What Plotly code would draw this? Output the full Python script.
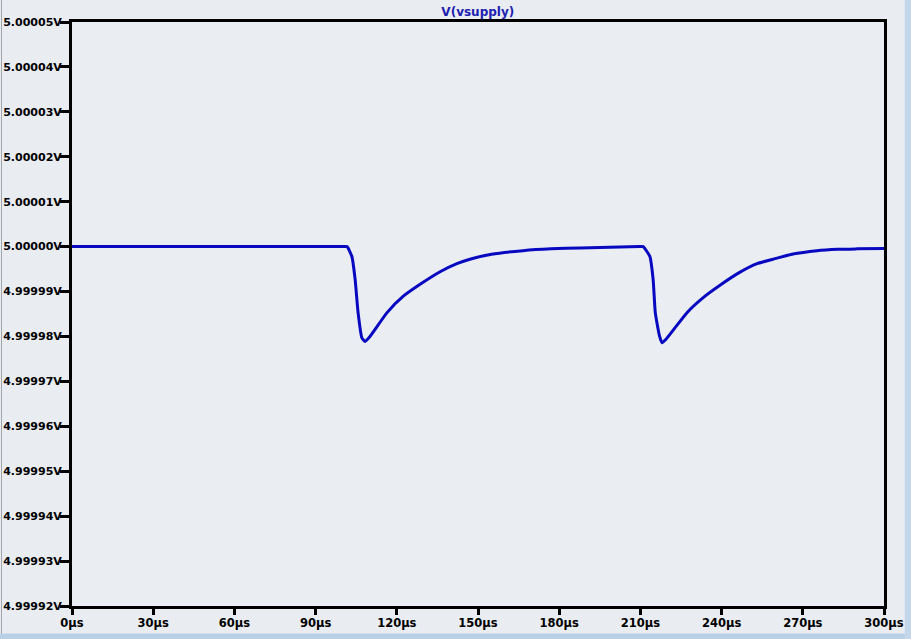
import plotly.graph_objects as go

# time in microseconds, deviation from 5 V in microvolts
time_us = [0, 30, 60, 90, 100, 101.6, 103.4, 104.6, 105.7, 107.1, 108.3, 110.1, 116.4, 122.3,
           128.6, 136.0, 142.2, 147.0, 155.0, 166.6, 177.0, 187.7, 202.5, 209.8,
           211.0, 213.5, 214.7, 215.5, 217.1, 218.0, 219.9, 227.2, 233.1, 239.4, 246.5,
           253.1, 259.0, 266.0, 275.2, 283.0, 290.0, 300]
dv_uv = [0, 0, 0, 0, 0, 0, -2.2, -7.3, -14.7, -20.3, -21.1, -20.0, -14.7, -11.1,
         -8.4, -5.6, -3.8, -2.8, -1.7, -0.9, -0.5, -0.3, -0.07, 0,
         0, -2.2, -7.3, -14.7, -20.0, -21.4, -20.3, -14.7, -11.4, -8.6, -5.8,
         -3.8, -2.8, -1.7, -0.9, -0.6, -0.5, -0.4]

y_tickvals = [50, 40, 30, 20, 10, 0, -10, -20, -30, -40, -50, -60, -70, -80]
y_ticktext = ["5.00005V", "5.00004V", "5.00003V", "5.00002V", "5.00001V", "5.00000V",
              "4.99999V", "4.99998V", "4.99997V", "4.99996V", "4.99995V", "4.99994V",
              "4.99993V", "4.99992V"]
x_tickvals = [0, 30, 60, 90, 120, 150, 180, 210, 240, 270, 300]
x_ticktext = [f"{v}µs" for v in x_tickvals]

fig = go.Figure()
fig.add_trace(
    go.Scatter(
        x=time_us,
        y=dv_uv,
        mode="lines",
        name="V(vsupply)",
        line=dict(color="#0808c0", width=3, shape="spline", smoothing=0.5),
    )
)

fig.update_layout(
    width=911,
    height=639,
    margin=dict(l=72, r=27, t=22, b=33),
    plot_bgcolor="#eaedf2",
    paper_bgcolor="#e9ecf1",
    showlegend=False,
    title=dict(
        text="V(vsupply)",
        x=0.5245,
        xanchor="center",
        y=0.981,
        yanchor="middle",
        font=dict(family="DejaVu Sans", size=12, color="#2020b0", weight="bold"),
    ),
)
axis_style = dict(
    ticks="outside",
    tickwidth=3,
    tickcolor="black",
    showgrid=False,
    zeroline=False,
    showline=True,
    linewidth=3,
    linecolor="black",
    mirror=True,
    automargin=False,
)
fig.update_xaxes(
    range=[0, 300], tickvals=x_tickvals, ticktext=x_ticktext, ticklen=6,
    tickfont=dict(family="DejaVu Sans", size=11.5, color="black", weight="bold"),
    ticklabelstandoff=-2,
    **axis_style,
)
fig.update_yaxes(
    range=[-80, 50], tickvals=y_tickvals, ticktext=y_ticktext, ticklen=9,
    tickfont=dict(family="DejaVu Sans", size=11, color="black", weight="bold"),
    ticklabelstandoff=-4,
    **axis_style,
)

# window frame edges seen in the screenshot
fig.add_shape(type="rect", xref="paper", yref="paper", x0=-0.0874, x1=-0.0862, y0=-0.05, y1=1.04,
              line_width=0, fillcolor="#a0a4aa", layer="below")
fig.add_shape(type="rect", xref="paper", yref="paper", x0=-0.09, x1=1.04, y0=-0.057, y1=-0.047,
              line_width=0, fillcolor="#b9cfe6", layer="below")
fig.add_shape(type="rect", xref="paper", yref="paper", x0=1.0255, x1=1.04, y0=-0.057, y1=1.04,
              line_width=0, fillcolor="#c4d6ea", layer="below")

fig.write_html(
    "out.html",
    config={"displayModeBar": False},
    post_script="document.body.style.margin='0';document.body.style.overflow='hidden';",
)
